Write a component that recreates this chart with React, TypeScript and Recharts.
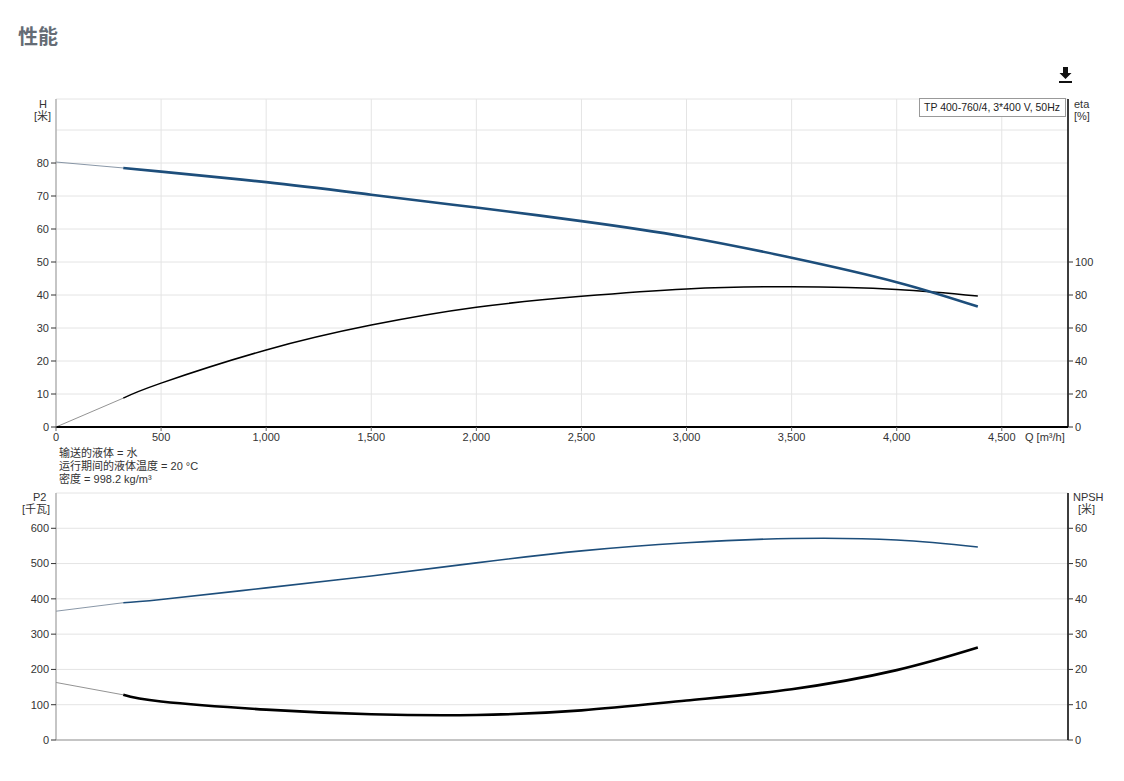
import React from "react";
import { LineChart, Line, XAxis, YAxis, CartesianGrid, ReferenceLine } from "recharts";

// flow points, m³/h
const qExt = [0, 320];
const qMain = [320, 500, 1000, 1500, 2000, 2500, 3000, 3500, 4000, 4386];

// head H [m]
const headExt = [80.3, 78.5];
const headMain = [78.5, 77.4, 74.2, 70.4, 66.5, 62.4, 57.6, 51.3, 43.9, 36.5];

// efficiency eta [%]
const etaExt = [0, 17.5];
const etaMain = [17.5, 26.6, 46.7, 61.8, 72.6, 79.2, 83.7, 85.0, 83.4, 79.4];

// power P2 [kW]
const p2Ext = [365, 389];
const p2Main = [389, 398, 431, 465, 502, 536, 559, 571, 567, 547];

// NPSH [m]
const npshExt = [16.3, 12.8];
const npshMain = [12.8, 10.9, 8.6, 7.3, 7.1, 8.4, 11.2, 14.4, 19.8, 26.2];

const qTicks = [0, 500, 1000, 1500, 2000, 2500, 3000, 3500, 4000, 4500];
const hTicks = [0, 10, 20, 30, 40, 50, 60, 70, 80];
const etaTicks = [0, 20, 40, 60, 80, 100];
const p2Ticks = [0, 100, 200, 300, 400, 500, 600];
const npshTicks = [0, 10, 20, 30, 40, 50, 60];

const pump = "TP 400-760/4, 3*400 V, 50Hz";
const liquidLines = ["输送的液体 = 水", "运行期间的液体温度 = 20 °C", "密度 = 998.2 kg/m³"];

const FONT = '"Liberation Sans", Arial, "Noto Sans CJK SC", sans-serif';
const BLUE = "#1d4e7b";
const GRID = "#e4e4e4";
const tickStyle = { fill: "#333", fontSize: 11, fontFamily: FONT };

const pts = (qs: number[], vs: number[]) => qs.map((q, i) => ({ q, v: vs[i] }));
const fmt = (v: number) => v.toLocaleString("en-US");

function Label({ x, y, children, align = "left" }: any) {
  return (
    <div
      style={{
        position: "absolute",
        left: x,
        top: y,
        fontFamily: FONT,
        fontSize: 11,
        color: "#333",
        lineHeight: "12px",
        textAlign: align,
        whiteSpace: "nowrap",
      }}
    >
      {children}
    </div>
  );
}

export default function App() {
  return (
    <div style={{ position: "absolute", left: 0, top: 0, width: 1124, height: 781, background: "#fff" }}>
      <div
        style={{
          position: "absolute",
          left: 18,
          top: 21,
          fontFamily: '"Noto Sans CJK SC", sans-serif',
          fontWeight: 700,
          fontSize: 20,
          color: "#656c75",
        }}
      >
        性能
      </div>

      <svg style={{ position: "absolute", left: 1058, top: 66 }} width={16} height={18}>
        <path d="M5 1 H10 V7 H13.5 L7.5 13 L1.5 7 H5 Z" fill="#111" />
        <rect x={1} y={15} width={13} height={2} fill="#111" />
      </svg>

      {/* top chart: H and eta */}
      <div style={{ position: "absolute", left: 0, top: 0 }}>
        <LineChart width={1124} height={460} margin={{ top: 99, right: 16, bottom: 3, left: 16 }}>
          <CartesianGrid yAxisId="h" stroke={GRID} strokeWidth={1} horizontal vertical />
          <XAxis
            dataKey="q"
            type="number"
            domain={[0, 4815]}
            ticks={qTicks}
            tickFormatter={fmt}
            allowDataOverflow
            height={30}
            tick={tickStyle}
            tickSize={4}
            tickMargin={2}
            axisLine={{ stroke: "#000", strokeWidth: 2 }}
            tickLine={{ stroke: "#666" }}
          />
          <YAxis
            yAxisId="h"
            orientation="left"
            width={40}
            domain={[0, 99.4]}
            ticks={hTicks}
            allowDataOverflow
            tick={tickStyle}
            tickSize={5}
            tickMargin={2}
            axisLine={{ stroke: "#999" }}
            tickLine={{ stroke: "#333" }}
          />
          <YAxis
            yAxisId="eta"
            orientation="right"
            width={40}
            domain={[0, 198.8]}
            ticks={etaTicks}
            allowDataOverflow
            tick={tickStyle}
            tickSize={5}
            tickMargin={2}
            axisLine={{ stroke: "#000", strokeWidth: 1.5 }}
            tickLine={{ stroke: "#333" }}
          />
          <ReferenceLine yAxisId="h" y={90} stroke={GRID} />
          <Line yAxisId="h" data={pts(qExt, headExt)} dataKey="v" type="natural" stroke="#6b7c90" strokeWidth={0.8} dot={false} isAnimationActive={false} />
          <Line yAxisId="eta" data={pts(qExt, etaExt)} dataKey="v" type="natural" stroke="#777" strokeWidth={0.8} dot={false} isAnimationActive={false} />
          <Line yAxisId="eta" data={pts(qMain, etaMain)} dataKey="v" type="natural" stroke="#000" strokeWidth={1.5} dot={false} isAnimationActive={false} />
          <Line yAxisId="h" data={pts(qMain, headMain)} dataKey="v" type="natural" stroke={BLUE} strokeWidth={2.6} dot={false} isAnimationActive={false} />
        </LineChart>
      </div>

      <div
        style={{
          position: "absolute",
          left: 919,
          top: 98,
          width: 147,
          height: 19,
          border: "1px solid #999",
          background: "#fff",
          fontFamily: FONT,
          fontSize: 10.5,
          color: "#222",
          lineHeight: "17px",
          paddingLeft: 4,
          boxSizing: "border-box",
          whiteSpace: "nowrap",
          overflow: "hidden",
        }}
      >
        {pump}
      </div>

      <Label x={39} y={98}>H</Label>
      <Label x={34} y={110}>[米]</Label>
      <Label x={1074} y={98}>eta</Label>
      <Label x={1074} y={110}>[%]</Label>
      <Label x={1025} y={431}>Q [m³/h]</Label>

      {liquidLines.map((t, i) => (
        <Label key={t} x={59} y={447 + i * 13}>
          {t}
        </Label>
      ))}

      {/* bottom chart: P2 and NPSH */}
      <div style={{ position: "absolute", left: 0, top: 470 }}>
        <LineChart width={1124} height={300} margin={{ top: 23, right: 16, bottom: 20, left: 16 }}>
          <CartesianGrid yAxisId="p2" stroke={GRID} strokeWidth={1} horizontal vertical />
          <XAxis
            dataKey="q"
            type="number"
            domain={[0, 4815]}
            ticks={qTicks}
            allowDataOverflow
            height={10}
            tick={false}
            tickLine={false}
            axisLine={{ stroke: "#999" }}
          />
          <YAxis
            yAxisId="p2"
            orientation="left"
            width={40}
            domain={[0, 700]}
            ticks={p2Ticks}
            allowDataOverflow
            tick={tickStyle}
            tickSize={5}
            tickMargin={2}
            axisLine={{ stroke: "#999" }}
            tickLine={{ stroke: "#333" }}
          />
          <YAxis
            yAxisId="npsh"
            orientation="right"
            width={40}
            domain={[0, 70]}
            ticks={npshTicks}
            allowDataOverflow
            tick={tickStyle}
            tickSize={5}
            tickMargin={2}
            axisLine={{ stroke: "#000", strokeWidth: 1.5 }}
            tickLine={{ stroke: "#333" }}
          />
          <Line yAxisId="p2" data={pts(qExt, p2Ext)} dataKey="v" type="natural" stroke="#6b7c90" strokeWidth={0.8} dot={false} isAnimationActive={false} />
          <Line yAxisId="npsh" data={pts(qExt, npshExt)} dataKey="v" type="natural" stroke="#777" strokeWidth={0.8} dot={false} isAnimationActive={false} />
          <Line yAxisId="p2" data={pts(qMain, p2Main)} dataKey="v" type="natural" stroke={BLUE} strokeWidth={1.6} dot={false} isAnimationActive={false} />
          <Line yAxisId="npsh" data={pts(qMain, npshMain)} dataKey="v" type="natural" stroke="#000" strokeWidth={2.6} dot={false} isAnimationActive={false} />
        </LineChart>
      </div>

      <Label x={33} y={491}>P2</Label>
      <Label x={22} y={503}>[千瓦]</Label>
      <Label x={1073} y={491}>NPSH</Label>
      <Label x={1078} y={503}>[米]</Label>
    </div>
  );
}
